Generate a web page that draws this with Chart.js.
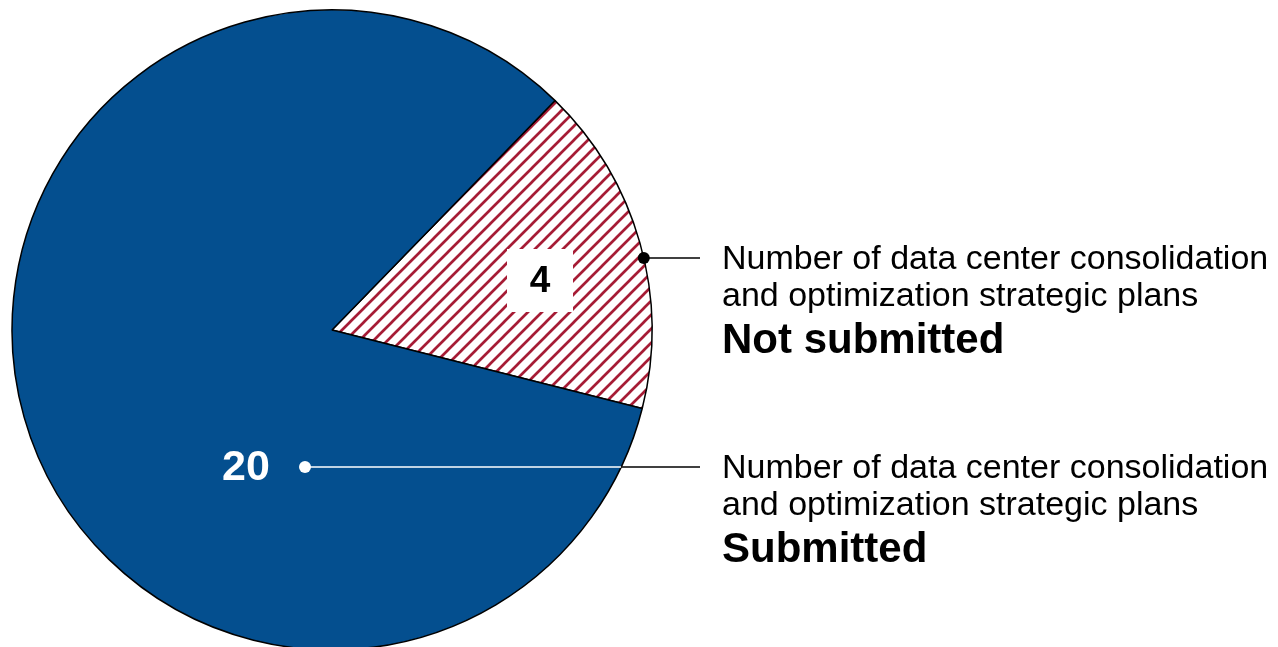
<!DOCTYPE html>
<html>
<head>
<meta charset="utf-8">
<script src="https://cdn.jsdelivr.net/npm/chart.js@4.4.1/dist/chart.umd.min.js"></script>
<style>
html,body{margin:0;padding:0;background:#fff;overflow:hidden;}
#wrap{width:1278px;height:660px;position:relative;}
</style>
</head>
<body>
<div id="wrap"><canvas id="c" width="1278" height="660"></canvas></div>
<script>
// ---- data ----
const categories = ["Not submitted", "Submitted"];
const values = [4, 20];
const valueLabels = ["4", "20"];
const descLine1 = ["Number of data center consolidation", "Number of data center consolidation"];
const descLine2 = ["and optimization strategic plans", "and optimization strategic plans"];

const BLUE = "#044f8f";
const RED = "#a61c35";

function hatch() {
  const s = 14;
  const cv = document.createElement("canvas");
  cv.width = s; cv.height = s;
  const x = cv.getContext("2d");
  x.fillStyle = "#fff"; x.fillRect(0, 0, s, s);
  x.strokeStyle = RED; x.lineWidth = 2.7;
  x.beginPath();
  x.moveTo(-3, s + 3); x.lineTo(s + 3, -3);
  x.moveTo(-3, 3); x.lineTo(3, -3);
  x.moveTo(s - 3, s + 3); x.lineTo(s + 3, s - 3);
  x.stroke();
  return document.getElementById("c").getContext("2d").createPattern(cv, "repeat");
}

const FONT = "'Liberation Sans', Arial, sans-serif";

const labelPlugin = {
  id: "labels",
  afterDraw(chart) {
    const ctx = chart.ctx;
    const arcs = chart.getDatasetMeta(0).data;
    const a = arcs[0];
    const cx = a.x, cy = a.y, r = a.outerRadius;
    ctx.save();
    // "4" label box
    const bx = cx + 208, by = cy - 49;
    ctx.fillStyle = "#fff";
    ctx.fillRect(bx - 33, by - 32, 66, 63);
    ctx.fillStyle = "#000";
    ctx.font = "bold 37px " + FONT;
    ctx.textAlign = "center"; ctx.textBaseline = "middle";
    ctx.fillText(valueLabels[0], bx, by + 1);

    // leaders
    const textX = 722;
    const lineEnd = 700;
    const y1 = 258, y2 = 467;
    // top leader (black)
    const ex1 = cx + Math.sqrt(r * r - (y1 - cy) * (y1 - cy));
    ctx.strokeStyle = "#000"; ctx.lineWidth = 1.5;
    ctx.beginPath(); ctx.moveTo(ex1, y1); ctx.lineTo(lineEnd, y1); ctx.stroke();
    ctx.beginPath(); ctx.arc(ex1, y1, 6, 0, Math.PI * 2); ctx.fillStyle = "#000"; ctx.fill();

    // bottom leader (white inside, black outside)
    const ex2 = cx + Math.sqrt(r * r - (y2 - cy) * (y2 - cy));
    const dotX = cx - 27;
    ctx.strokeStyle = "#fff"; ctx.lineWidth = 1.5;
    ctx.beginPath(); ctx.moveTo(dotX, y2); ctx.lineTo(ex2, y2); ctx.stroke();
    ctx.strokeStyle = "#000";
    ctx.beginPath(); ctx.moveTo(ex2, y2); ctx.lineTo(lineEnd, y2); ctx.stroke();
    ctx.beginPath(); ctx.arc(dotX, y2, 6, 0, Math.PI * 2); ctx.fillStyle = "#fff"; ctx.fill();

    // "20" label
    ctx.fillStyle = "#fff";
    ctx.font = "bold 43px " + FONT;
    ctx.textAlign = "center";
    ctx.fillText(valueLabels[1], cx - 86, y2 + 1);

    // descriptions
    ctx.fillStyle = "#000";
    ctx.textAlign = "left";
    ctx.textBaseline = "alphabetic";
    const blocks = [y1, y2];
    for (let i = 0; i < 2; i++) {
      const y = blocks[i];
      ctx.font = "34px " + FONT;
      ctx.fillText(descLine1[i], textX, y + 11);
      ctx.fillText(descLine2[i], textX, y + 48);
      ctx.font = "bold 42px " + FONT;
      ctx.fillText(categories[i], textX, y + 95);
    }
    ctx.restore();
  }
};

new Chart(document.getElementById("c"), {
  type: "pie",
  data: {
    labels: categories,
    datasets: [{
      data: values,
      backgroundColor: [hatch(), BLUE],
      borderColor: "#000",
      borderWidth: 1.5,
      borderAlign: "center"
    }]
  },
  options: {
    responsive: false,
    animation: false,
    rotation: 44.2,
    radius: 320,
    layout: { padding: { left: 12, top: 10, right: 626, bottom: 10 } },
    plugins: { legend: { display: false }, tooltip: { enabled: false } },
    events: []
  },
  plugins: [labelPlugin]
});
</script>
</body>
</html>
